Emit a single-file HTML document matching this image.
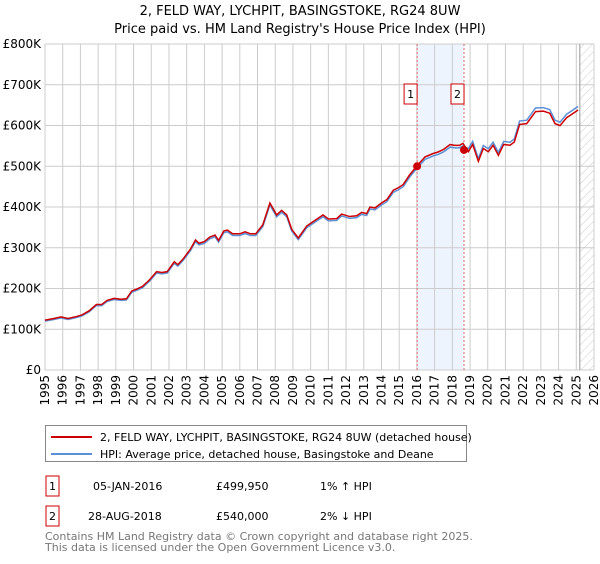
<!DOCTYPE html>
<html><head><meta charset="utf-8"><style>
body{margin:0;background:#fff;font-family:"DejaVu Sans","Liberation Sans",sans-serif;}
svg text{font-family:"DejaVu Sans","Liberation Sans",sans-serif;}
</style></head><body>
<svg id="chart" width="600" height="560" xmlns="http://www.w3.org/2000/svg">
<defs><pattern id="hatch" width="6" height="6" patternUnits="userSpaceOnUse" patternTransform="rotate(45)"><line x1="0" y1="0" x2="0" y2="6" stroke="#ccc" stroke-width="1"/></pattern></defs>
<text x="300" y="15" text-anchor="middle" font-size="13">2, FELD WAY, LYCHPIT, BASINGSTOKE, RG24 8UW</text>
<text x="300" y="33" text-anchor="middle" font-size="13">Price paid vs. HM Land Registry's House Price Index (HPI)</text>
<g id="grid"></g><g id="series"></g><g id="axes"></g>
<g>
<rect x="45.5" y="425.5" width="421" height="36" fill="#fff" stroke="#888"/>
<line x1="51" y1="437" x2="92" y2="437" stroke="#cc0000" stroke-width="2"/>
<text x="100" y="441" font-size="11">2, FELD WAY, LYCHPIT, BASINGSTOKE, RG24 8UW (detached house)</text>
<line x1="51" y1="454" x2="92" y2="454" stroke="#5b8fd6" stroke-width="2"/>
<text x="100" y="458" font-size="11">HPI: Average price, detached house, Basingstoke and Deane</text>
</g>
<g font-size="11">
<rect x="46" y="476" width="13" height="20" fill="#fff" stroke="#cc0000"/><text x="52.5" y="490" text-anchor="middle">1</text>
<text x="93" y="490">05-JAN-2016</text><text x="216" y="490">£499,950</text><text x="320" y="490">1% ↑ HPI</text>
<rect x="46" y="506" width="13" height="20" fill="#fff" stroke="#cc0000"/><text x="52.5" y="520" text-anchor="middle">2</text>
<text x="88" y="520">28-AUG-2018</text><text x="216" y="520">£540,000</text><text x="320" y="520">2% ↓ HPI</text>
</g>
<text x="45" y="540" font-size="11" fill="#777">Contains HM Land Registry data © Crown copyright and database right 2025.</text>
<text x="45" y="551" font-size="11" fill="#777">This data is licensed under the Open Government Licence v3.0.</text>
</svg>
<script>
const years=[1995.0,1995.5,1995.9,1996.3,1996.8,1997.1,1997.5,1997.9,1998.2,1998.5,1998.9,1999.3,1999.6,1999.9,2000.2,2000.5,2000.9,2001.3,2001.6,2001.9,2002.3,2002.5,2002.8,2003.2,2003.5,2003.7,2004.0,2004.3,2004.6,2004.8,2005.1,2005.3,2005.6,2006.0,2006.3,2006.6,2006.9,2007.3,2007.7,2008.08,2008.36,2008.65,2008.93,2009.3,2009.78,2010.15,2010.7,2011.0,2011.47,2011.75,2012.2,2012.6,2012.88,2013.16,2013.35,2013.63,2014.0,2014.3,2014.67,2014.95,2015.23,2015.6,2016.0,2016.46,2016.9,2017.2,2017.5,2017.87,2018.15,2018.4,2018.6,2018.9,2019.15,2019.47,2019.75,2020.03,2020.3,2020.6,2020.9,2021.26,2021.5,2021.8,2022.2,2022.7,2023.14,2023.5,2023.8,2024.08,2024.46,2024.74,2025.1];
const hpi=[120,124,128,124,129,133,143,158,158,168,173,171,172,191,196,202,218,238,236,238,262,255,269,292,315,307,311,322,327,314,337,339,330,330,335,330,330,352,405,376,387,376,341,320,349,360,376,366,367,378,372,374,382,379,395,393,405,413,436,442,450,474,495,517,525,529,535,547,545,545,550,543,561,519,551,543,559,534,561,559,567,611,613,643,644,639,613,608,628,636,647];
const sales=[{t:2016.01,v:499.95,label:"1"},{t:2018.66,v:540,label:"2"}];
const yTicks=[0,100,200,300,400,500,600,700,800];
const yLabels=["£0","£100K","£200K","£300K","£400K","£500K","£600K","£700K","£800K"];
const xTicks=[1995,1996,1997,1998,1999,2000,2001,2002,2003,2004,2005,2006,2007,2008,2009,2010,2011,2012,2013,2014,2015,2016,2017,2018,2019,2020,2021,2022,2023,2024,2025,2026];
const L=45,R=594,T=44,B=370;
const X=t=>L+(t-1995)/(2026-1995)*(R-L);
const Y=v=>B-v/800*(B-T);
const NS="http://www.w3.org/2000/svg";
function mk(tag,attrs,parent){const e=document.createElementNS(NS,tag);for(const k in attrs)e.setAttribute(k,attrs[k]);parent.appendChild(e);return e;}
const grid=document.getElementById('grid'),ser=document.getElementById('series'),ax=document.getElementById('axes');
function hpiAt(t){for(let i=1;i<years.length;i++){if(years[i]>=t){const f=(t-years[i-1])/(years[i]-years[i-1]);return hpi[i-1]+f*(hpi[i]-hpi[i-1]);}}return hpi[hpi.length-1];}
// shaded band
const band=mk('rect',{x:X(sales[0].t),y:T,width:X(sales[1].t)-X(sales[0].t),height:B-T,fill:'#eef4fd'},grid);


yTicks.forEach((v,i)=>{
 const l=mk('line',{x1:L,x2:R,y1:Y(v),y2:Y(v),stroke:'#ccc','stroke-width':1},grid);
 
 
 const tx=mk('text',{x:L-4,y:Y(v)+4,'text-anchor':'end','font-size':12},ax);tx.textContent=yLabels[i];
 
 
});
xTicks.forEach(yr=>{
 const l=mk('line',{x1:X(yr),x2:X(yr),y1:T,y2:B,stroke:'#ccc','stroke-width':1},grid);
 
 
 const tx=mk('text',{x:0,y:0,'text-anchor':'end','font-size':12,transform:`translate(${X(yr)+4},${B+5}) rotate(-90)`},ax);tx.textContent=yr;
 
 
});
// future hatch
const hx=X(2025.2);
const h=mk('rect',{x:hx,y:T,width:R-hx,height:B-T,fill:'url(#hatch)'},grid);


mk('line',{x1:hx,x2:hx,y1:T,y2:B,stroke:'#999','stroke-width':1},grid);
// sale vlines
sales.forEach(s=>{
 const l=mk('line',{x1:X(s.t),x2:X(s.t),y1:T,y2:B,stroke:'#e06666','stroke-width':1,'stroke-dasharray':'2,2'},grid);
 
 
});
// HPI line
const hp=mk('polyline',{points:years.map((t,i)=>X(t)+','+Y(hpi[i])).join(' '),fill:'none',stroke:'#5b8fd6','stroke-width':1.5},ser);


// property line: HPI scaled by sale ratios
const r1=sales[0].v/hpiAt(sales[0].t)*1.0, r2=sales[1].v/hpiAt(sales[1].t);
const red=years.map((t,i)=>hpi[i]*(t<sales[1].t?r1:r2));
const rp=mk('polyline',{points:years.map((t,i)=>X(t)+','+(Y(red[i])-0.5)).join(' '),fill:'none',stroke:'#cc0000','stroke-width':1.5},ser);


sales.forEach(s=>{
 const c=mk('circle',{cx:X(s.t),cy:Y(s.v),r:4,fill:'#cc0000'},ser);
 
 
 const g=mk('g',{},ser);
 
 
 mk('rect',{x:X(s.t)-13,y:84,width:13,height:20,fill:'#fff',stroke:'#cc0000'},g);
 const tx=mk('text',{x:X(s.t)-6.5,y:98,'text-anchor':'middle','font-size':11},g);tx.textContent=s.label;
});
</script>
</body></html>
